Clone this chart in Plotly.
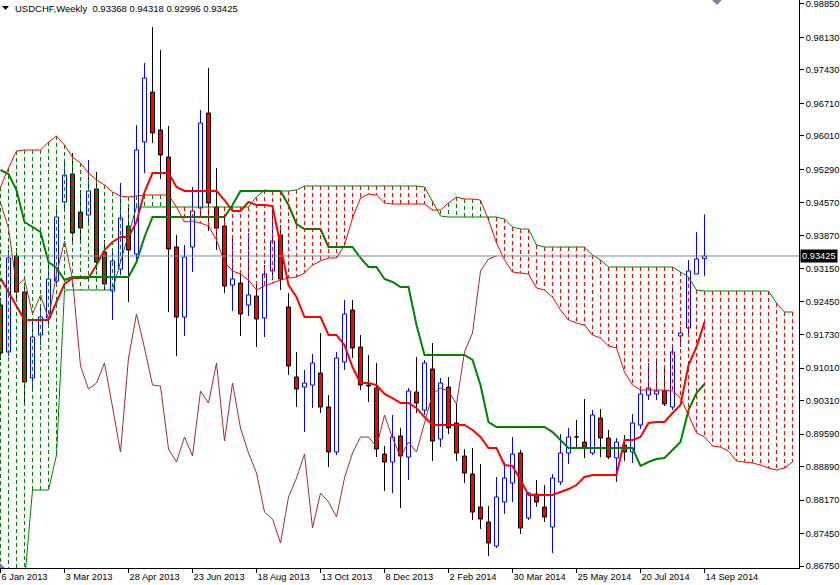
import plotly.graph_objects as go

# ---------------- data (USDCHF weekly) ----------------
x_tick_pos = [0, 8, 16, 24, 32, 40, 48, 56, 64, 72, 80, 88]
x_tick_labels = ["6 Jan 2013", "3 Mar 2013", "28 Apr 2013", "23 Jun 2013", "18 Aug 2013",
                 "13 Oct 2013", "8 Dec 2013", "2 Feb 2014", "30 Mar 2014", "25 May 2014",
                 "20 Jul 2014", "14 Sep 2014"]

y_tick_vals = [0.98850, 0.98130, 0.97430, 0.96710, 0.96010, 0.95290, 0.94570, 0.93870, 0.93150,
               0.92450, 0.91730, 0.91010, 0.90310, 0.89590, 0.88890, 0.88170, 0.87450, 0.86750]
y_tick_text = ["0.98850", "0.98130", "0.97430", "0.96710", "0.96010", "0.95290", "0.94570",
               "0.93870", "0.93150", "0.92450", "0.91730", "0.91010", "0.90310", "0.89590",
               "0.88890", "0.88170", "0.87450", "0.86750"]

opens = [0.92370, 0.91358, 0.93425, 0.92650, 0.90798, 0.91724, 0.92090, 0.92886, 0.94587, 0.95190,
         0.94372, 0.94307, 0.94867, 0.93511, 0.92671, 0.93145, 0.94070, 0.93468, 0.95879, 0.96955,
         0.96137, 0.95556, 0.93618, 0.92111, 0.93618, 0.94458, 0.96503, 0.94479, 0.94070, 0.92800,
         0.92843, 0.92370, 0.92563, 0.92090, 0.93102, 0.93877, 0.92327, 0.90820, 0.90604, 0.90647,
         0.90906, 0.90174, 0.89205, 0.91143, 0.92262, 0.91465, 0.90647, 0.90583, 0.89162, 0.88990,
         0.89549, 0.89097, 0.90497, 0.90109, 0.90992, 0.89485, 0.90604, 0.89829, 0.89119, 0.88731,
         0.88021, 0.87698, 0.87181, 0.88128, 0.88537, 0.89183, 0.87784, 0.88301, 0.88021, 0.87590,
         0.88559, 0.89183, 0.89528, 0.89420, 0.89183, 0.89937, 0.89506, 0.89076, 0.89356, 0.89205,
         0.89786, 0.90432, 0.90454, 0.90518, 0.90174, 0.91702, 0.91874, 0.93037, 0.93368]

highs = [0.92520, 0.93554, 0.93597, 0.92822, 0.92047, 0.92370, 0.93231, 0.94523, 0.95448, 0.95642,
         0.94845, 0.95491, 0.95233, 0.93769, 0.93554, 0.94996, 0.94523, 0.96245, 0.97580, 0.98355,
         0.97860, 0.96223, 0.93877, 0.93661, 0.94910, 0.96568, 0.97472, 0.95319, 0.94307, 0.93877,
         0.93123, 0.93920, 0.92800, 0.93231, 0.94458, 0.94092, 0.92628, 0.91358, 0.90970, 0.91315,
         0.91767, 0.90432, 0.91358, 0.92477, 0.92477, 0.91724, 0.91293, 0.91121, 0.89334, 0.90002,
         0.89722, 0.90583, 0.91250, 0.91186, 0.91552, 0.90798, 0.90820, 0.90260, 0.89269, 0.89291,
         0.88947, 0.88042, 0.88667, 0.88990, 0.89528, 0.89248, 0.88344, 0.88602, 0.88494, 0.88731,
         0.89592, 0.89722, 0.89894, 0.90346, 0.90109, 0.90131, 0.89679, 0.89506, 0.89571, 0.90023,
         0.90583, 0.91121, 0.91143, 0.91013, 0.91530, 0.91896, 0.93338, 0.93941, 0.94318]

lows = [0.91186, 0.91272, 0.92477, 0.90195, 0.90540, 0.91508, 0.91939, 0.92757, 0.94415, 0.93661,
        0.93769, 0.94092, 0.93123, 0.92693, 0.92047, 0.93016, 0.92434, 0.93295, 0.95211, 0.95857,
        0.95082, 0.92219, 0.91272, 0.91702, 0.93080, 0.94307, 0.93963, 0.93554, 0.92628, 0.92240,
        0.91702, 0.92133, 0.91465, 0.91681, 0.92908, 0.92693, 0.90863, 0.90174, 0.89635, 0.90152,
        0.90045, 0.88882, 0.89140, 0.90970, 0.91229, 0.90540, 0.90281, 0.89097, 0.88365, 0.88322,
        0.87999, 0.88602, 0.90045, 0.90002, 0.89011, 0.89313, 0.89592, 0.89011, 0.88537, 0.87741,
        0.87547, 0.86966, 0.87138, 0.87870, 0.88128, 0.87440, 0.87741, 0.88021, 0.87698, 0.87030,
        0.88494, 0.88947, 0.89313, 0.89076, 0.89140, 0.89097, 0.89054, 0.88559, 0.89011, 0.88968,
        0.89700, 0.90324, 0.90324, 0.90195, 0.90109, 0.91465, 0.91767, 0.93037, 0.92996]

closes = [0.91336, 0.93382, 0.92650, 0.90712, 0.91681, 0.92111, 0.92929, 0.94264, 0.95168, 0.93920,
          0.94027, 0.94824, 0.93295, 0.92822, 0.93317, 0.94243, 0.93554, 0.95707, 0.97257, 0.96073,
          0.95599, 0.93575, 0.92111, 0.93403, 0.94393, 0.96288, 0.94566, 0.94027, 0.92779, 0.92929,
          0.92176, 0.92585, 0.92068, 0.93037, 0.93747, 0.92929, 0.91056, 0.90561, 0.90690, 0.91121,
          0.90174, 0.89205, 0.91229, 0.92176, 0.91444, 0.90647, 0.90626, 0.89269, 0.88990, 0.89528,
          0.89119, 0.90518, 0.90260, 0.91121, 0.89442, 0.90690, 0.89722, 0.89183, 0.88753, 0.87913,
          0.87762, 0.87246, 0.88236, 0.88645, 0.89162, 0.87569, 0.88322, 0.88128, 0.87806, 0.88645,
          0.89183, 0.89528, 0.89528, 0.89313, 0.90002, 0.89506, 0.89097, 0.89420, 0.89205, 0.89829,
          0.90454, 0.90583, 0.90518, 0.90238, 0.91358, 0.91767, 0.93102, 0.93360, 0.93425]

tenkan = [0.92951, 0.92650, 0.92348, 0.92047, 0.92047, 0.92047, 0.92047, 0.92434, 0.92822, 0.92951,
          0.92951, 0.92951, 0.93231, 0.93554, 0.93726, 0.93834, 0.93834, 0.94157, 0.94802, 0.95211,
          0.95211, 0.95211, 0.94910, 0.94824, 0.94824, 0.94824, 0.94824, 0.94824, 0.94630, 0.94393,
          0.94393, 0.94587, 0.94523, 0.94523, 0.94501, 0.93618, 0.92800, 0.92542, 0.92111, 0.92111,
          0.92111, 0.91724, 0.91724, 0.91508, 0.91035, 0.90690, 0.90690, 0.90647, 0.90454, 0.90367,
          0.90260, 0.90260, 0.90152, 0.89958, 0.89786, 0.89786, 0.89786, 0.89786, 0.89786, 0.89679,
          0.89528, 0.89291, 0.89291, 0.88925, 0.88904, 0.88602, 0.88279, 0.88279, 0.88279, 0.88279,
          0.88344, 0.88408, 0.88494, 0.88667, 0.88710, 0.88710, 0.88710, 0.88710, 0.89463, 0.89463,
          0.89528, 0.89829, 0.89851, 0.89851, 0.90045, 0.90217, 0.91078, 0.91465, 0.92004]

kijun = [0.95276, 0.95190, 0.94845, 0.94157, 0.94049, 0.93941, 0.93295, 0.93166, 0.92908, 0.92973,
         0.92973, 0.92973, 0.92973, 0.92973, 0.92973, 0.92973, 0.92973, 0.93295, 0.93834, 0.94264,
         0.94264, 0.94264, 0.94264, 0.94264, 0.94264, 0.94264, 0.94264, 0.94264, 0.94264, 0.94523,
         0.94824, 0.94824, 0.94824, 0.94824, 0.94824, 0.94824, 0.94523, 0.94114, 0.94006, 0.94006,
         0.94006, 0.93618, 0.93618, 0.93618, 0.93618, 0.93382, 0.93188, 0.93188, 0.92929, 0.92865,
         0.92757, 0.92757, 0.91939, 0.91293, 0.91293, 0.91293, 0.91293, 0.91293, 0.91293, 0.91186,
         0.90647, 0.89851, 0.89743, 0.89743, 0.89743, 0.89743, 0.89743, 0.89743, 0.89743, 0.89635,
         0.89463, 0.89291, 0.89291, 0.89291, 0.89291, 0.89291, 0.89291, 0.89291, 0.89291, 0.89291,
         0.88904, 0.88990, 0.89054, 0.89076, 0.89248, 0.89420, 0.90109, 0.90475, 0.90669]

span_a = [0.94910, 0.95319, 0.95685, 0.95707, 0.95707, 0.95707, 0.95879, 0.96008, 0.95814, 0.95556,
          0.95427, 0.95211, 0.95061, 0.94953, 0.94802, 0.94716, 0.94695, 0.94716, 0.94738, 0.94738,
          0.94738, 0.94738, 0.94479, 0.94157, 0.94178, 0.94135, 0.94070, 0.93769, 0.93295, 0.93102,
          0.93037, 0.92908, 0.92693, 0.92779, 0.92843, 0.92908, 0.92951, 0.92973, 0.93059, 0.93231,
          0.93317, 0.93382, 0.93382, 0.93661, 0.94243, 0.94673, 0.94759, 0.94738, 0.94566, 0.94544,
          0.94544, 0.94544, 0.94544, 0.94544, 0.94415, 0.94415, 0.94566, 0.94695, 0.94652, 0.94652,
          0.94630, 0.94200, 0.93704, 0.93338, 0.93080, 0.93059, 0.93037, 0.92736, 0.92693, 0.92542,
          0.92262, 0.92047, 0.91982, 0.91939, 0.91724, 0.91659, 0.91487, 0.91444, 0.90927, 0.90647,
          0.90540, 0.90540, 0.90540, 0.90540, 0.90518, 0.90367, 0.90002, 0.89614, 0.89528, 0.89334,
          0.89313, 0.89226, 0.89011, 0.88990, 0.88968, 0.88925, 0.88861, 0.88818, 0.88861, 0.88990]

span_b = [0.86400, 0.86400, 0.86400, 0.86400, 0.88387, 0.88387, 0.88387, 0.89140, 0.92693, 0.92693,
          0.92693, 0.92693, 0.92693, 0.92693, 0.92693, 0.93295, 0.93877, 0.94479, 0.94479, 0.94479,
          0.94479, 0.94479, 0.94479, 0.94479, 0.94479, 0.94479, 0.94479, 0.94479, 0.94479, 0.94479,
          0.94479, 0.94479, 0.94695, 0.94845, 0.94824, 0.94824, 0.94824, 0.94845, 0.94932, 0.94932,
          0.94932, 0.94932, 0.94932, 0.94932, 0.94932, 0.94932, 0.94932, 0.94932, 0.94932, 0.94932,
          0.94932, 0.94932, 0.94932, 0.94910, 0.94587, 0.94286, 0.94264, 0.94264, 0.94264, 0.94264,
          0.94264, 0.94264, 0.94264, 0.94221, 0.94049, 0.94006, 0.94006, 0.93661, 0.93618, 0.93618,
          0.93618, 0.93618, 0.93618, 0.93618, 0.93446, 0.93338, 0.93188, 0.93188, 0.93188, 0.93188,
          0.93188, 0.93188, 0.93188, 0.93188, 0.93188, 0.93080, 0.92973, 0.92693, 0.92671, 0.92671,
          0.92671, 0.92671, 0.92671, 0.92671, 0.92671, 0.92671, 0.92671, 0.92413, 0.92219, 0.92219]

chikou_shift = 26
last_price = 0.93425
title_text = "USDCHF,Weekly  0.93368 0.94318 0.92996 0.93425"

# ---------------- figure ----------------
FONT = "Liberation Sans, Arial, sans-serif"
n = len(opens)
bars_x = list(range(n))

fig = go.Figure()

# candle bodies
bull_x, bull_base, bull_h = [], [], []
bear_x, bear_base, bear_h = [], [], []
for i, (o, c) in enumerate(zip(opens, closes)):
    lo_b, hi_b = min(o, c), max(o, c)
    h = max(hi_b - lo_b, 0.00004)
    if c > o:
        bull_x.append(i); bull_base.append(lo_b); bull_h.append(h)
    else:
        bear_x.append(i); bear_base.append(lo_b); bear_h.append(h)

fig.add_trace(go.Bar(x=bull_x, y=bull_h, base=bull_base, width=0.5,
                     marker=dict(color="white", line=dict(color="#0000FF", width=1)),
                     hoverinfo="skip", showlegend=False))
fig.add_trace(go.Bar(x=bear_x, y=bear_h, base=bear_base, width=0.5,
                     marker=dict(color="#FF0000", line=dict(color="black", width=1)),
                     hoverinfo="skip", showlegend=False))

# wicks (outside the bodies)
wb_x, wb_y, wr_x, wr_y = [], [], [], []
for i, (o, h, l, c) in enumerate(zip(opens, highs, lows, closes)):
    top, bot = max(o, c), min(o, c)
    seg_x = [i, i, None, i, i, None]
    seg_y = [h, top, None, bot, l, None]
    if c > o:
        wb_x += seg_x; wb_y += seg_y
    else:
        wr_x += seg_x; wr_y += seg_y
fig.add_trace(go.Scatter(x=wb_x, y=wb_y, mode="lines", line=dict(color="#0000FF", width=1),
                         hoverinfo="skip", showlegend=False))
fig.add_trace(go.Scatter(x=wr_x, y=wr_y, mode="lines", line=dict(color="black", width=1),
                         hoverinfo="skip", showlegend=False))

# tenkan / kijun
fig.add_trace(go.Scatter(x=bars_x, y=tenkan, mode="lines", line=dict(color="#FF0000", width=2),
                         hoverinfo="skip", showlegend=False))
fig.add_trace(go.Scatter(x=bars_x, y=kijun, mode="lines", line=dict(color="#008000", width=2),
                         hoverinfo="skip", showlegend=False))

# cloud hatching
gx, gy, rx, ry = [], [], [], []
for k, (a, b) in enumerate(zip(span_a, span_b)):
    if a > b:
        gx += [k, k, None]; gy += [a, b, None]
    else:
        rx += [k, k, None]; ry += [b, a, None]
fig.add_trace(go.Scatter(x=gx, y=gy, mode="lines", line=dict(color="#008000", width=1, dash="4px,3px"),
                         hoverinfo="skip", showlegend=False))
fig.add_trace(go.Scatter(x=rx, y=ry, mode="lines", line=dict(color="#FF0000", width=1, dash="4px,3px"),
                         hoverinfo="skip", showlegend=False))

# chikou
fig.add_trace(go.Scatter(x=bars_x[:n - chikou_shift], y=closes[chikou_shift:], mode="lines",
                         line=dict(color="#A52A2A", width=1), hoverinfo="skip", showlegend=False))

# span lines
span_x = list(range(len(span_a)))
fig.add_trace(go.Scatter(x=span_x, y=span_a, mode="lines", line=dict(color="#FF0000", width=1),
                         hoverinfo="skip", showlegend=False))
fig.add_trace(go.Scatter(x=span_x, y=span_b, mode="lines", line=dict(color="#008000", width=1),
                         hoverinfo="skip", showlegend=False))

# current price line
fig.add_shape(type="line", xref="paper", x0=0, x1=1, yref="y", y0=last_price, y1=last_price,
              line=dict(color="#778899", width=1), layer="above")

# price label on the axis
fig.add_annotation(xref="paper", x=1, xanchor="left", xshift=1, yref="y", y=last_price,
                   text="%.5f" % last_price, showarrow=False, bgcolor="black",
                   font=dict(family=FONT, size=9.3, color="white"), borderpad=1)

# title
fig.add_annotation(xref="paper", x=0, xanchor="left", xshift=13, yref="paper", y=1,
                   yanchor="top", yshift=-1, text=title_text, showarrow=False,
                   font=dict(family=FONT, size=9.5, color="black"))
fig.add_shape(type="path", xref="paper", yref="paper", xsizemode="pixel", ysizemode="pixel",
              xanchor=0, yanchor=1, path="M 2,-6 L 9,-6 L 5.5,-10 Z",
              fillcolor="black", line=dict(width=0))
# small chart-shift markers
fig.add_shape(type="path", xref="paper", yref="paper", xsizemode="pixel", ysizemode="pixel",
              xanchor=0, yanchor=1, path="M 712,0 L 722,0 L 717,-5 Z",
              fillcolor="#7a8696", line=dict(width=0))
fig.add_shape(type="path", xref="paper", yref="paper", xsizemode="pixel", ysizemode="pixel",
              xanchor=0, yanchor=0, path="M 0,5 L 0,0 L 5,0 Z",
              fillcolor="#7a8696", line=dict(width=0))

fig.update_layout(
    width=840, height=585,
    margin=dict(l=0, r=41, t=0, b=17),
    paper_bgcolor="white", plot_bgcolor="white",
    barmode="overlay", showlegend=False, hovermode=False,
    font=dict(family=FONT, size=9.3, color="black"),
    xaxis=dict(range=[-0.0625, 99.8125], tickmode="array", tickvals=x_tick_pos, ticktext=x_tick_labels,
               ticks="outside", ticklen=4, tickcolor="black", showline=True, linecolor="black",
               linewidth=1, showgrid=False, zeroline=False, ticklabelposition="outside right",
               ticklabeloverflow="allow",
               tickfont=dict(family=FONT, size=9.3, color="black"), fixedrange=True),
    yaxis=dict(range=[0.86708, 0.98936], side="right", tickmode="array", tickvals=y_tick_vals,
               ticktext=y_tick_text, ticks="outside", ticklen=4, tickcolor="black", showline=True,
               linecolor="black", linewidth=1, showgrid=False, zeroline=False,
               ticklabeloverflow="allow",
               tickfont=dict(family=FONT, size=9.3, color="black"), fixedrange=True),
)

fig.write_html("out.html", config={"displayModeBar": False},
               post_script="document.body.style.margin='0';document.body.style.overflow='hidden';")
